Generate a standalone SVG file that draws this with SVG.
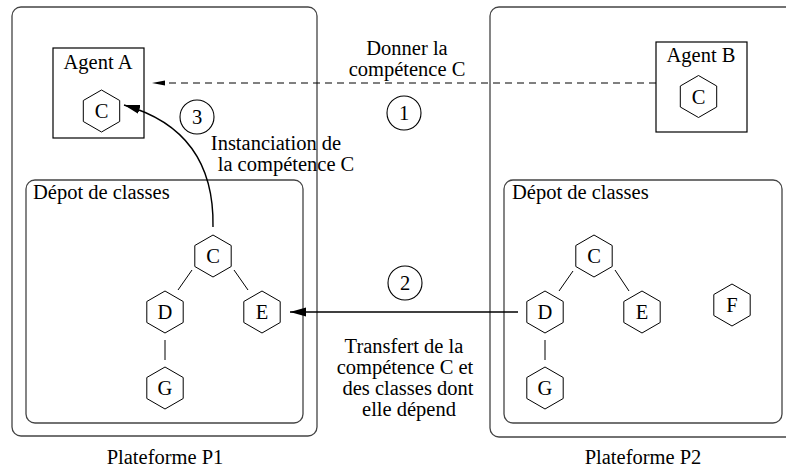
<svg xmlns="http://www.w3.org/2000/svg" width="786" height="469" viewBox="0 0 786 469">
  <style>
    text { font-family: 'Liberation Serif', 'Times New Roman', serif; font-size: 20.5px; fill: #000; }
    .mid { text-anchor: middle; }
    .platform { fill: none; stroke: #444; stroke-width: 1.3; }
    .depot { fill: none; stroke: #444; stroke-width: 1.3; }
    .agent { fill: #fff; stroke: #000; stroke-width: 1.2; }
    .hex { fill: #fff; stroke: #000; stroke-width: 1; }
    .link { stroke: #000; stroke-width: 1; fill: none; }
    .step { fill: #fff; stroke: #000; stroke-width: 1.1; }
    .arrow { stroke: #000; stroke-width: 1.4; fill: none; }
    .dashed { stroke: #000; stroke-width: 1; fill: none; stroke-dasharray: 7 5; }
  </style>
  <defs>
    <!-- pointy-top hexagon used for every class -->
    <polygon id="hexagon" points="0,-21 18.2,-10.5 18.2,10.5 0,21 -18.2,10.5 -18.2,-10.5"/>
    <marker id="head" markerUnits="userSpaceOnUse" markerWidth="18" markerHeight="10" refX="16" refY="5" orient="auto">
      <path d="M0,0.5 L16,5 L0,9.5 Z" fill="#000"/>
    </marker>
    <marker id="headThin" markerUnits="userSpaceOnUse" markerWidth="15" markerHeight="6" refX="13" refY="3" orient="auto">
      <path d="M0,0.5 L13,3 L0,5.5 Z" fill="#000"/>
    </marker>
  </defs>

  <!-- platforms -->
  <g id="platform-p1">
    <rect class="platform" x="12" y="7" width="305" height="429" rx="9"/>
    <text class="mid" x="165" y="464">Plateforme P1</text>
  </g>
  <g id="platform-p2">
    <rect class="platform" x="490" y="7" width="320" height="430" rx="9"/>
    <text class="mid" x="643" y="464">Plateforme P2</text>
  </g>

  <!-- class repositories -->
  <g id="depot-p1">
    <rect class="depot" x="26" y="180" width="277" height="243" rx="9"/>
    <text x="33" y="199">Dépot de classes</text>
  </g>
  <g id="depot-p2">
    <rect class="depot" x="504" y="180" width="278" height="243" rx="9"/>
    <text x="512" y="199">Dépot de classes</text>
  </g>

  <!-- agents -->
  <g id="agent-a">
    <rect class="agent" x="53" y="48" width="91" height="90"/>
    <text class="mid" x="98" y="69">Agent A</text>
    <use href="#hexagon" class="hex" x="101.5" y="111"/>
    <text class="mid" x="101.5" y="118">C</text>
  </g>
  <g id="agent-b">
    <rect class="agent" x="656" y="42" width="91" height="90"/>
    <text class="mid" x="701" y="62">Agent B</text>
    <use href="#hexagon" class="hex" x="698.5" y="96.5"/>
    <text class="mid" x="698.5" y="104">C</text>
  </g>

  <!-- class hierarchy on P1 -->
  <g id="p1-class-c"><use href="#hexagon" class="hex" x="213" y="256"/><text class="mid" x="213" y="263">C</text></g>
  <g id="p1-class-d"><use href="#hexagon" class="hex" x="165" y="312"/><text class="mid" x="165" y="319">D</text></g>
  <g id="p1-class-e"><use href="#hexagon" class="hex" x="262" y="312"/><text class="mid" x="262" y="319">E</text></g>
  <g id="p1-class-g"><use href="#hexagon" class="hex" x="165" y="388"/><text class="mid" x="165" y="395">G</text></g>

  <!-- class hierarchy on P2 -->
  <g id="p2-class-c"><use href="#hexagon" class="hex" x="594" y="256"/><text class="mid" x="594" y="263">C</text></g>
  <g id="p2-class-d"><use href="#hexagon" class="hex" x="545" y="312"/><text class="mid" x="545" y="319">D</text></g>
  <g id="p2-class-e"><use href="#hexagon" class="hex" x="642" y="312"/><text class="mid" x="642" y="319">E</text></g>
  <g id="p2-class-g"><use href="#hexagon" class="hex" x="545" y="388"/><text class="mid" x="545" y="395">G</text></g>
  <g id="p2-class-f"><use href="#hexagon" class="hex" x="732" y="305"/><text class="mid" x="732" y="312">F</text></g>

  <!-- step markers -->
  <g id="step-1"><circle class="step" cx="404" cy="113" r="17"/><text class="mid" x="404" y="120">1</text></g>
  <g id="step-2"><circle class="step" cx="405" cy="283" r="17"/><text class="mid" x="405" y="290">2</text></g>
  <g id="step-3"><circle class="step" cx="197" cy="117" r="17"/><text class="mid" x="197" y="124">3</text></g>

  <!-- connectors -->
  <g id="connectors">
    <!-- class dependency links -->
    <line class="link" x1="192" y1="270" x2="178" y2="290"/>
    <line class="link" x1="234" y1="270" x2="248" y2="290"/>
    <line class="link" x1="165" y1="340" x2="165" y2="360"/>
    <line class="link" x1="573" y1="271" x2="559" y2="291"/>
    <line class="link" x1="615" y1="270" x2="629" y2="291"/>
    <line class="link" x1="545" y1="340" x2="545" y2="360"/>
    <!-- step 1: request from agent B -->
    <line class="dashed" x1="656" y1="83" x2="152" y2="83" marker-end="url(#headThin)"/>
    <!-- step 2: transfer between repositories -->
    <line class="arrow" x1="518" y1="312" x2="290" y2="312" marker-end="url(#head)"/>
    <!-- step 3: instantiation into agent A -->
    <path class="arrow" d="M213,227 C214,175 195,125 124,105" marker-end="url(#head)"/>
  </g>

  <!-- connector labels -->
  <g id="labels">
    <text class="mid" x="407" y="55">Donner la</text>
    <text class="mid" x="407" y="76">compétence C</text>
    <text class="mid" x="276" y="150">Instanciation de</text>
    <text class="mid" x="286" y="171">la compétence C</text>
    <text class="mid" x="404" y="353">Transfert de la</text>
    <text class="mid" x="405" y="374">compétence C et</text>
    <text class="mid" x="408" y="395">des classes dont</text>
    <text class="mid" x="409" y="416">elle dépend</text>
  </g>
</svg>
